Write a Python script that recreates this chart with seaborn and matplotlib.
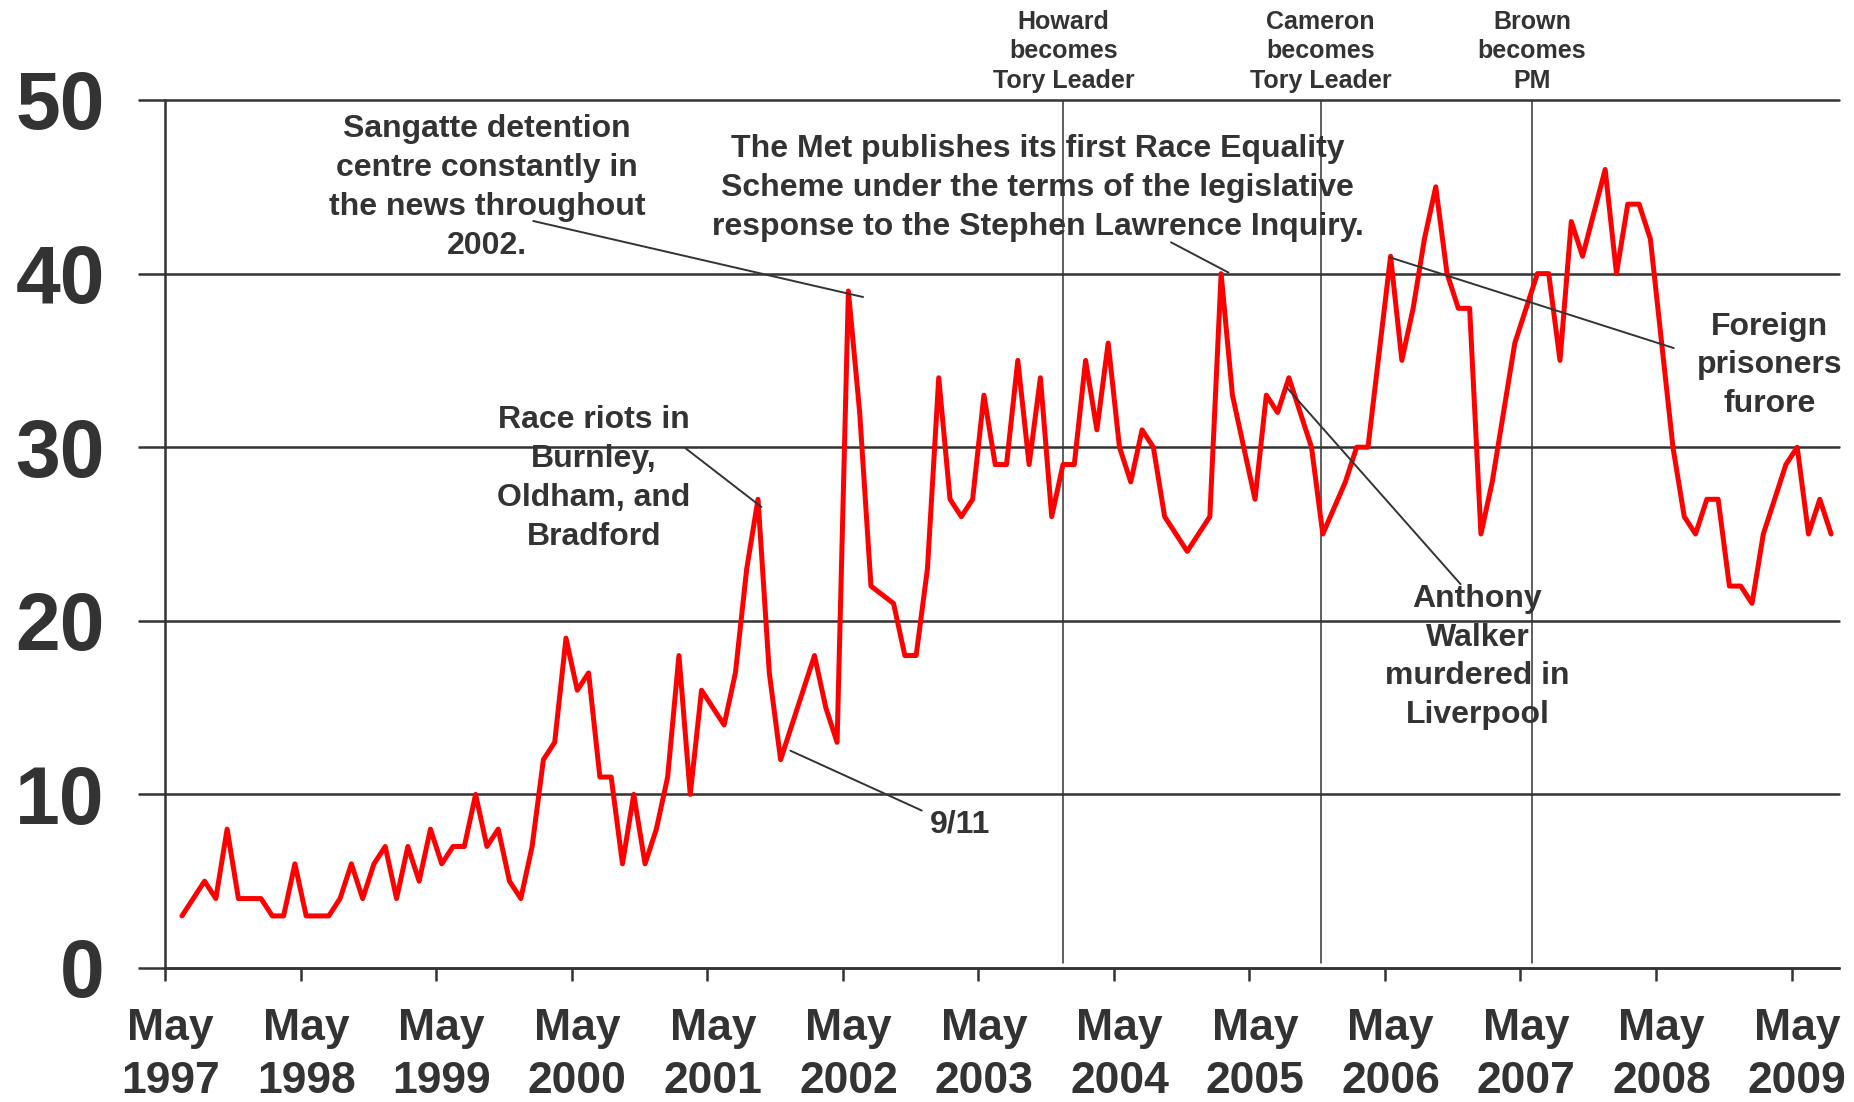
import numpy as np
import pandas as pd
import matplotlib
matplotlib.use("Agg")
import matplotlib.pyplot as plt
import seaborn as sns

# ---------------- data (monthly, June 1997 .. August 2009) ----------------
values = [3, 4, 5, 4, 8, 4, 4, 4, 3, 3, 6, 3, 3, 3, 4, 6, 4, 6, 7, 4, 7, 5, 8, 6,
          7, 7, 10, 7, 8, 5, 4, 7, 12, 13, 19, 16,
          17, 11, 11, 6, 10, 6, 8, 11, 18, 10, 16, 15, 14, 17, 23, 27, 17, 12,
          14, 16, 18, 15, 13, 39, 32, 22, 21.5, 21, 18, 18, 23, 34, 27,
          26, 27, 33, 29, 29, 35, 29, 34, 26, 29, 29, 35, 31, 36, 30, 28, 31, 30,
          26, 25, 24, 25, 26, 40, 33, 30, 27, 33, 32, 34, 32, 30, 25,
          26.5, 28, 30, 30, 35.5, 41, 35, 38, 42, 45, 40, 38, 38, 25, 28, 32, 36,
          38, 40, 40, 35, 43, 41, 43.5, 46, 40, 44, 44, 42, 36, 30, 26, 25, 27,
          27, 22, 22, 21, 25, 27, 29, 30, 25, 27, 25]
first_month = "1997-06"
axis_start = "1997-05"

tick_labels = ["May\n%d" % y for y in range(1997, 2010)]
y_ticks = [0, 10, 20, 30, 40, 50]

event_labels = ["Howard\nbecomes\nTory Leader",
                "Cameron\nbecomes\nTory Leader",
                "Brown\nbecomes\nPM"]
event_x = [79.54, 102.3, 121.03]

notes = [
    "Sangatte detention\ncentre constantly in\nthe news throughout\n2002.",
    "Race riots in\nBurnley,\nOldham, and\nBradford",
    "9/11",
    "The Met publishes its first Race Equality\nScheme under the terms of the legislative\nresponse to the Stephen Lawrence Inquiry.",
    "Anthony\nWalker\nmurdered in\nLiverpool",
    "Foreign\nprisoners\nfurore",
]
note_xy = [(28.52, 44.96), (37.96, 28.2), (70.42, 8.24),
           (77.24, 44.93), (116.19, 17.91), (142.06, 34.71)]
leader_x = [(32.6, 61.8), (46.06, 52.8), (55.36, 67.0),
            (89.07, 94.15), (99.33, 114.7), (108.46, 133.57)]
leader_y = [(43.03, 38.65), (29.95, 26.56), (12.52, 9.07),
            (41.80, 40.06), (33.42, 22.11), (40.93, 35.71)]

# ---------------- positions from dates ----------------
months = pd.period_range(first_month, periods=len(values), freq="M")
base = pd.Period(axis_start, freq="M")
xpos = np.array([(m - base).n for m in months], dtype=float) + 0.5
df = pd.DataFrame({"x": xpos, "v": values})
year_ticks = [12 * k for k in range(len(tick_labels))]
label_pos = [t + 0.5 for t in year_ticks]

# ---------------- style ----------------
sns.set_theme(style="white")
plt.rcParams["font.family"] = ["Liberation Sans", "DejaVu Sans"]
plt.rcParams["font.weight"] = "bold"
TXT = "#333333"

fig = plt.figure(figsize=(18.54, 11.02), dpi=100)
ax = fig.add_axes([165 / 1854, 1 - 968 / 1102, (1839 - 165) / 1854, (968 - 100) / 1102])

sns.lineplot(data=df, x="x", y="v", ax=ax, color="#ff0000", linewidth=3.6, zorder=5)

ax.set_xlim(0, 148.2)
ax.set_ylim(0, 50)
ax.set_xlabel("")
ax.set_ylabel("")

for s in ["top", "right"]:
    ax.spines[s].set_visible(False)
for s in ["left", "bottom"]:
    ax.spines[s].set_color(TXT)
    ax.spines[s].set_linewidth(1.8)

ax.set_yticks(y_ticks)
ax.set_yticklabels([str(t) for t in y_ticks], fontsize=58, fontweight="bold", color=TXT)
ax.tick_params(axis="y", direction="out", length=19.4, width=1.8, color=TXT, pad=24, left=True)
ax.yaxis.grid(True, color=TXT, linewidth=1.8)
ax.xaxis.grid(False)
for gl in ax.get_ygridlines():
    gl.set_clip_on(False)
ax.set_axisbelow(True)

ax.set_xticks(year_ticks)
ax.set_xticklabels([])
ax.set_xticks(label_pos, minor=True)
ax.set_xticklabels(tick_labels, minor=True, fontsize=32, fontweight="bold",
                   color=TXT, linespacing=1.36)
ax.tick_params(axis="x", which="major", direction="out", length=9.4, width=1.8,
               color=TXT, bottom=True)
ax.tick_params(axis="x", which="minor", length=0, pad=29, bottom=True)

# event lines
for ex, lab in zip(event_x, event_labels):
    ax.plot([ex, ex], [0.3, 50], color=TXT, linewidth=1.1, zorder=2)
    ax.text(ex, 52.8, lab, ha="center", va="center", fontsize=18, fontweight="bold",
            color=TXT, linespacing=1.3, clip_on=False)

# annotations
for txt, (tx, ty), lx, ly in zip(notes, note_xy, leader_x, leader_y):
    ax.text(tx, ty, txt, ha="center", va="center", multialignment="center",
            fontsize=23, fontweight="bold", color=TXT, linespacing=1.38, zorder=7)
    ax.plot(list(lx), list(ly), color=TXT, linewidth=1.4, zorder=6)

fig.savefig("out.png", dpi=100)
